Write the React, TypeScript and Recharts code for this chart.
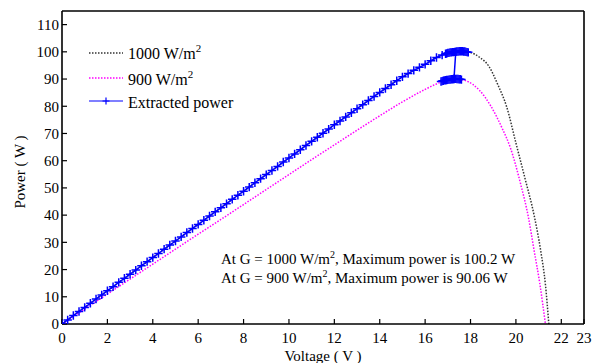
import React from 'react';
import { LineChart, Line, XAxis, YAxis } from 'recharts';

const FONT = "'Liberation Serif', 'Times New Roman', serif";

// 1000 W/m^2 P-V curve
const voltage1000 = [0, 1, 2, 3, 4, 5, 6, 7, 8, 9, 10, 11, 12, 13, 14, 15, 16, 16.5, 17, 17.5, 18, 18.4, 18.8, 19.2, 19.6, 20.0, 20.4, 20.8, 21.1, 21.3, 21.45];
const power1000 = [0, 6.1, 12.2, 18.3, 24.4, 30.5, 36.6, 42.7, 48.8, 54.9, 61.0, 67.1, 73.2, 79.1, 85.1, 90.8, 95.4, 97.9, 99.6, 100.2, 99.7, 98.0, 94.8, 88.0, 79.6, 66.5, 53.5, 40.0, 26.5, 14.5, 0];

// 900 W/m^2 P-V curve
const voltage900 = [0, 1, 2, 3, 4, 5, 6, 7, 8, 9, 10, 11, 12, 13, 14, 15, 16, 16.5, 17, 17.3, 17.75, 18.1, 18.4, 18.9, 19.4, 19.75, 20.2, 20.55, 20.8, 21.05, 21.3];
const power900 = [0, 5.5, 11.0, 16.5, 22.0, 27.5, 33.0, 38.4, 43.9, 49.4, 54.9, 60.4, 65.8, 71.2, 76.5, 81.6, 86.2, 88.2, 89.7, 90.06, 89.5, 88.0, 85.8, 80.0, 71.8, 64.9, 51.7, 39.2, 27.1, 15.0, 0];

// Extracted power (tracking trajectory)
const extractedV = [
  0, 0.25, 0.5, 0.75, 1, 1.25, 1.5, 1.75, 2, 2.25, 2.5, 2.75, 3, 3.25, 3.5, 3.75, 4, 4.25, 4.5, 4.75,
  5, 5.25, 5.5, 5.75, 6, 6.25, 6.5, 6.75, 7, 7.25, 7.5, 7.75, 8, 8.25, 8.5, 8.75, 9, 9.25, 9.5, 9.75,
  10, 10.25, 10.5, 10.75, 11, 11.25, 11.5, 11.75, 12, 12.25, 12.5, 12.75, 13, 13.25, 13.5, 13.75,
  14, 14.25, 14.5, 14.75, 15, 15.25, 15.5, 15.75, 16, 16.25, 16.5, 16.75,
  16.9, 17.0, 17.1, 17.2, 17.3, 17.4, 17.5, 17.6, 17.7, 17.8, 17.9,
  17.85, 17.75, 17.65, 17.55, 17.45, 17.35, 17.25, 17.15, 17.05, 16.95, 17.35,
  17.27, 17.2, 17.1, 17.0, 16.9, 16.8, 16.7, 16.75, 16.85, 16.95, 17.05, 17.15, 17.25, 17.35, 17.45, 17.55, 17.6, 17.5, 17.4, 17.3,
];
const extractedP = [
  0, 1.5, 3.1, 4.6, 6.1, 7.6, 9.2, 10.7, 12.2, 13.7, 15.3, 16.8, 18.3, 19.8, 21.4, 22.9, 24.4, 25.9, 27.5, 29.0,
  30.5, 32.0, 33.6, 35.1, 36.6, 38.1, 39.7, 41.2, 42.7, 44.2, 45.8, 47.3, 48.8, 50.3, 51.9, 53.4, 54.9, 56.4, 57.9, 59.5,
  61.0, 62.5, 64.0, 65.6, 67.1, 68.6, 70.1, 71.6, 73.2, 74.6, 76.1, 77.6, 79.1, 80.6, 82.1, 83.6,
  85.1, 86.5, 87.9, 89.4, 90.8, 92.0, 93.2, 94.3, 95.4, 96.7, 97.9, 98.8,
  99.3, 99.6, 99.8, 99.9, 100.0, 100.1, 100.2, 100.2, 100.1, 100.0, 99.8,
  99.9, 100.1, 100.2, 100.2, 100.1, 100.0, 99.9, 99.8, 99.6, 99.4, 100.0,
  90.0, 89.95, 89.85, 89.7, 89.55, 89.4, 89.1, 89.25, 89.5, 89.65, 89.8, 89.9, 90.0, 90.06, 90.0, 89.9, 89.8, 89.95, 90.03, 90.06,
];

const xTicks = [0, 2, 4, 6, 8, 10, 12, 14, 16, 18, 20, 22, 23];
const yTicks = [0, 10, 20, 30, 40, 50, 60, 70, 80, 90, 100, 110];

const legendLabels = ['1000 W/m', '900 W/m', 'Extracted power'];
const annotations = [
  ['At G = 1000 W/m', ', Maximum power is 100.2 W'],
  ['At G = 900 W/m', ', Maximum power is 90.06 W'],
];

const curve1000 = voltage1000.map((v, i) => ({ v, p: power1000[i] }));
const curve900 = voltage900.map((v, i) => ({ v, p: power900[i] }));
const extracted = extractedV.map((v, i) => ({ v, p: extractedP[i] }));

const BLUE = '#0000ff';
const MAGENTA = '#ff00ff';
const DARK = '#333333';

const PlusDot = (props: any) => {
  const { cx, cy, index } = props;
  if (cx == null || cy == null) return <g key={`n${index}`} />;
  const s = 4.2;
  return (
    <path
      key={`d${index}`}
      d={`M${cx - s},${cy}H${cx + s}M${cx},${cy - s}V${cy + s}`}
      stroke={BLUE}
      strokeWidth={1.5}
      fill="none"
    />
  );
};

const axisLine = { stroke: '#000', strokeWidth: 1.6 };
const tickLine = { stroke: '#000', strokeWidth: 1.2 };
const tickStyle = { fill: '#000', fontSize: 15, fontFamily: FONT };

export default function App() {
  return (
    <div style={{ position: 'absolute', left: 0, top: 0, width: 601, height: 363, background: '#fff' }}>
      <LineChart width={601} height={363} margin={{ top: 10, right: 16, bottom: 9, left: 12 }}>
        <XAxis
          xAxisId="b"
          type="number"
          dataKey="v"
          domain={[0, 23]}
          ticks={xTicks}
          interval={0}
          height={30}
          tickSize={-5}
          tickMargin={13}
          axisLine={axisLine}
          tickLine={tickLine}
          tick={tickStyle}
          allowDataOverflow
        />
        <XAxis
          xAxisId="t"
          orientation="top"
          type="number"
          dataKey="v"
          domain={[0, 23]}
          ticks={xTicks}
          interval={0}
          height={1}
          tickSize={-5}
          axisLine={axisLine}
          tickLine={tickLine}
          tick={false}
          allowDataOverflow
        />
        <YAxis
          yAxisId="l"
          type="number"
          domain={[0, 115]}
          ticks={yTicks}
          interval={0}
          width={50}
          tickSize={-5}
          tickMargin={8}
          axisLine={axisLine}
          tickLine={tickLine}
          tick={tickStyle}
          allowDataOverflow
        />
        <YAxis
          yAxisId="r"
          orientation="right"
          type="number"
          domain={[0, 115]}
          ticks={yTicks}
          interval={0}
          width={1}
          tickSize={-5}
          axisLine={axisLine}
          tickLine={tickLine}
          tick={false}
          allowDataOverflow
        />
        <Line
          xAxisId="b"
          yAxisId="l"
          data={curve1000}
          dataKey="p"
          type="monotone"
          stroke={DARK}
          strokeWidth={1.5}
          strokeDasharray="1.5 1.5"
          dot={false}
          isAnimationActive={false}
        />
        <Line
          xAxisId="b"
          yAxisId="l"
          data={curve900}
          dataKey="p"
          type="monotone"
          stroke={MAGENTA}
          strokeWidth={1.5}
          strokeDasharray="1.5 1.5"
          dot={false}
          isAnimationActive={false}
        />
        <Line
          xAxisId="b"
          yAxisId="l"
          data={extracted}
          dataKey="p"
          type="linear"
          stroke={BLUE}
          strokeWidth={1.5}
          dot={PlusDot}
          isAnimationActive={false}
        />
      </LineChart>
      <svg
        width={601}
        height={363}
        style={{ position: 'absolute', left: 0, top: 0, pointerEvents: 'none' }}
        fontFamily={FONT}
      >
        {/* Legend */}
        <line x1={89} x2={123} y1={53} y2={53} stroke={DARK} strokeWidth={1.5} strokeDasharray="1.5 1.5" />
        <text x={128} y={59} fontSize={16} fill="#000">
          {legendLabels[0]}
          <tspan dy={-7} fontSize={11}>2</tspan>
        </text>
        <line x1={89} x2={123} y1={78} y2={78} stroke={MAGENTA} strokeWidth={1.5} strokeDasharray="1.5 1.5" />
        <text x={128} y={85} fontSize={16} fill="#000">
          {legendLabels[1]}
          <tspan dy={-7} fontSize={11}>2</tspan>
        </text>
        <line x1={89} x2={123} y1={101} y2={101} stroke={BLUE} strokeWidth={1.2} />
        <path d="M102.5,101H109.5M106,97.5V104.5" stroke={BLUE} strokeWidth={1.2} />
        <text x={128} y={108} fontSize={16} fill="#000">{legendLabels[2]}</text>

        {/* Annotations */}
        {annotations.map((a, i) => (
          <text key={i} x={221} y={264 + i * 19} fontSize={15} fill="#000">
            {a[0]}
            <tspan dy={-6} fontSize={10}>2</tspan>
            <tspan dy={6}>{a[1]}</tspan>
          </text>
        ))}

        {/* Axis labels */}
        <text x={323} y={361} fontSize={15} textAnchor="middle" fill="#000">Voltage ( V )</text>
        <text
          x={0}
          y={0}
          fontSize={15}
          textAnchor="middle"
          fill="#000"
          transform="translate(25,172) rotate(-90)"
        >
          Power ( W )
        </text>
      </svg>
    </div>
  );
}
